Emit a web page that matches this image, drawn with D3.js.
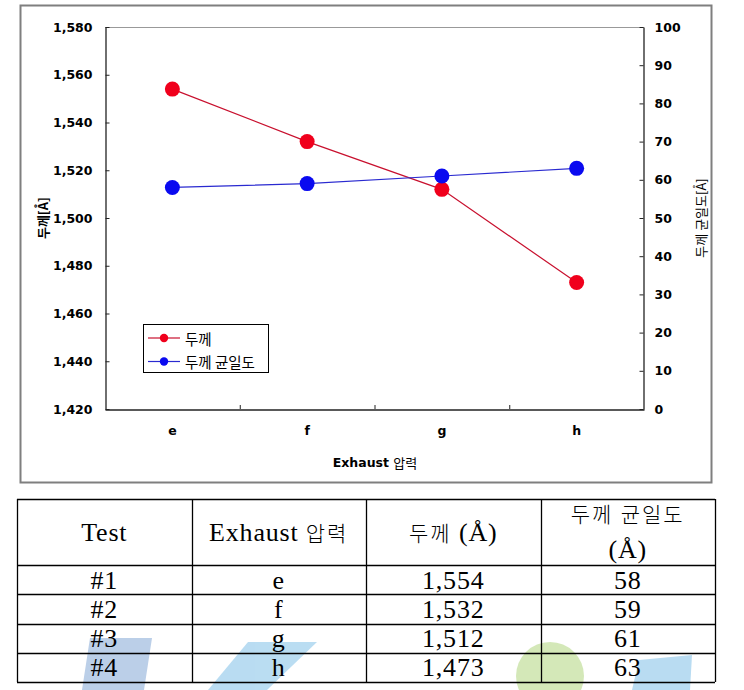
<!DOCTYPE html>
<html>
<head>
<meta charset="utf-8">
<script src="https://cdn.jsdelivr.net/npm/d3@7"></script>
<style>
  body { margin: 0; background: #fff; }
  svg text { fill: #000; }
</style>
</head>
<body>
<div id="main"></div>
<script>
var width = 744;
var height = 690;

var cats = ["e", "f", "g", "h"];
var tests = ["#1", "#2", "#3", "#4"];
var thickness = [1554, 1532, 1512, 1473];   // 두께
var uniformity = [58, 59, 61, 63];          // 두께 균일도
var leftTicks = [1420, 1440, 1460, 1480, 1500, 1520, 1540, 1560, 1580];
var rightTicks = [0, 10, 20, 30, 40, 50, 60, 70, 80, 90, 100];
var headers = ["Test", "Exhaust 압력", "두께 (Å)", "두께 균일도|(Å)"];

var RED = "#f0001c", RED_LINE = "#c8102e";
var BLUE = "#0a0af0", BLUE_LINE = "#2a2ad0";
var TICKFONT = "'DejaVu Sans', Verdana, sans-serif";
var KR = "'Noto Sans CJK KR', 'Noto Sans', sans-serif";

var svg = d3.select("#main").append("svg")
  .attr("width", width)
  .attr("height", height);

// outer chart frame
svg.append("rect")
  .attr("x", 20.5).attr("y", 5.5)
  .attr("width", 691).attr("height", 477)
  .attr("fill", "none").attr("stroke", "#7f7f7f").attr("stroke-width", 2);

var x = d3.scaleBand().domain(cats).range([105, 644]);
var yL = d3.scaleLinear().domain([1420, 1580]).range([409, 27]);
var yR = d3.scaleLinear().domain([0, 100]).range([409, 27]);
function cx(c) { return x(c) + x.bandwidth() / 2; }

// plot frame top line
svg.append("line")
  .attr("x1", 105).attr("x2", 644).attr("y1", 27.5).attr("y2", 27.5)
  .attr("stroke", "#999").attr("stroke-width", 1);

// left axis
var gl = svg.append("g").attr("transform", "translate(105.5,0)")
  .call(d3.axisLeft(yL).tickValues(leftTicks).tickFormat(d3.format(","))
    .tickSizeInner(-4).tickSizeOuter(0).tickPadding(13));
// right axis
var gr = svg.append("g").attr("transform", "translate(643.5,0)")
  .call(d3.axisRight(yR).tickValues(rightTicks)
    .tickSizeInner(-4).tickSizeOuter(0).tickPadding(11));
// bottom axis (labels at category centres)
var gb = svg.append("g").attr("transform", "translate(0,409.5)")
  .call(d3.axisBottom(x).tickSize(0).tickPadding(17));

[gl, gr, gb].forEach(function(g){
  g.select(".domain").attr("stroke", "#222").attr("stroke-width", 1.3);
  g.selectAll(".tick line").attr("stroke", "#222");
  g.selectAll(".tick text")
    .attr("font-family", TICKFONT).attr("font-size", 12.5)
    .attr("font-weight", "bold").attr("fill", "#000");
});

// category boundary ticks pointing up
svg.append("g").selectAll("line")
  .data(cats.slice(1))
  .enter().append("line")
  .attr("x1", function(d){ return x(d) + 0.5; })
  .attr("x2", function(d){ return x(d) + 0.5; })
  .attr("y1", 409).attr("y2", 405)
  .attr("stroke", "#222");

// axis titles
svg.append("text")
  .attr("transform", "translate(42,218) rotate(-90)")
  .attr("text-anchor", "middle").attr("dominant-baseline", "central")
  .attr("font-family", KR).attr("font-size", 13).attr("font-weight", "bold")
  .text("두께[Å]");
svg.append("text")
  .attr("transform", "translate(700,218) rotate(-90)")
  .attr("text-anchor", "middle").attr("dominant-baseline", "central")
  .attr("font-family", KR).attr("font-size", 13)
  .text("두께 균일도[Å]");
var xt = svg.append("text")
  .attr("x", 375).attr("y", 462)
  .attr("text-anchor", "middle").attr("dominant-baseline", "central")
  .attr("font-size", 12.5);
xt.append("tspan").attr("font-family", TICKFONT).attr("font-weight", "bold").text("Exhaust ");
xt.append("tspan").attr("font-family", KR).attr("font-size", 13).text("압력");

// series
var series = [
  { vals: thickness, y: yL, fill: RED, line: RED_LINE },
  { vals: uniformity, y: yR, fill: BLUE, line: BLUE_LINE }
];
series.forEach(function(s){
  var pts = cats.map(function(c, i){ return [cx(c), s.y(s.vals[i])]; });
  svg.append("path")
    .attr("d", d3.line()(pts))
    .attr("fill", "none").attr("stroke", s.line).attr("stroke-width", 1.2);
  svg.append("g").selectAll("circle")
    .data(pts)
    .enter().append("circle")
    .attr("cx", function(d){ return d[0]; })
    .attr("cy", function(d){ return d[1]; })
    .attr("r", 7.5)
    .attr("fill", s.fill);
});

// legend
var legend = svg.append("g").attr("transform", "translate(143,324)");
legend.append("rect")
  .attr("x", 0.5).attr("y", 0.5).attr("width", 125).attr("height", 48)
  .attr("fill", "#fff").attr("stroke", "#000").attr("stroke-width", 1);
var legItems = legend.selectAll(".item")
  .data([{ name: "두께", s: series[0] }, { name: "두께 균일도", s: series[1] }])
  .enter().append("g")
  .attr("class", "item")
  .attr("transform", function(d, i){ return "translate(0," + (14 + i * 23.5) + ")"; });
legItems.append("line")
  .attr("x1", 5).attr("x2", 37)
  .attr("stroke", function(d){ return d.s.line; }).attr("stroke-width", 1.2);
legItems.append("circle")
  .attr("cx", 21).attr("r", 4.2)
  .attr("fill", function(d){ return d.s.fill; });
legItems.append("text")
  .attr("x", 42).attr("dominant-baseline", "central")
  .attr("font-family", KR).attr("font-size", 14.5)
  .text(function(d){ return d.name; });

// watermark shapes behind the table
var marks = svg.append("g").attr("opacity", 0.6);
marks.append("polygon").attr("points", "90,638 152,638 144,690 82,690").attr("fill", "#8fb0da");
marks.append("polygon").attr("points", "248,642 317,642 267,690 208,690").attr("fill", "#8cc6ea");
marks.append("circle").attr("cx", 550).attr("cy", 676).attr("r", 34).attr("fill", "#b8da8a");
marks.append("polygon").attr("points", "639,660 692,655 690,690 632,690").attr("fill", "#8cc6ea");

// table
var col = d3.scaleBand().domain(d3.range(4)).range([17, 715]);
var row = d3.scaleBand().domain(tests).range([565, 682]);
var fmt = d3.format(",");
var rowsData = tests.map(function(t, i){
  return [t, cats[i], fmt(thickness[i]), String(uniformity[i])];
});

var table = svg.append("g");
function addRuns(textSel, str){
  // split Hangul from other characters so each gets its own font
  var runs = str.match(/[\uAC00-\uD7A3]+|[^\uAC00-\uD7A3]+/g) || [];
  runs.forEach(function(r){
    var kr = /[\uAC00-\uD7A3]/.test(r);
    textSel.append("tspan")
      .attr("font-family", kr ? KR : "'Liberation Serif', 'DejaVu Serif', serif")
      .attr("font-size", kr ? 21 : 26)
      .attr("font-weight", kr ? 300 : "normal")
      .attr("letter-spacing", kr ? 2 : 0.8)
      .text(r);
  });
}

headers.forEach(function(h, j){
  var lines = h.split("|");
  lines.forEach(function(l, k){
    var yy = lines.length == 1 ? 532 : (k == 0 ? 513 : 549);
    var t = table.append("text")
      .attr("x", col(j) + col.bandwidth() / 2).attr("y", yy)
      .attr("text-anchor", "middle").attr("dominant-baseline", "central");
    addRuns(t, l);
  });
});
rowsData.forEach(function(r, i){
  r.forEach(function(v, j){
    var t = table.append("text")
      .attr("x", col(j) + col.bandwidth() / 2)
      .attr("y", row(tests[i]) + row.bandwidth() / 2)
      .attr("text-anchor", "middle").attr("dominant-baseline", "central");
    addRuns(t, v);
  });
});

// grid lines
var hy = [499, 565].concat(tests.map(function(t){ return row(t) + row.bandwidth(); }));
table.selectAll(".hl").data(hy).enter().append("line")
  .attr("x1", 17).attr("x2", 715)
  .attr("y1", function(d){ return Math.round(d) + 0.5; })
  .attr("y2", function(d){ return Math.round(d) + 0.5; })
  .attr("stroke", "#000").attr("stroke-width", 1.3);
var vx = d3.range(4).map(function(j){ return col(j); }).concat([715]);
table.selectAll(".vl").data(vx).enter().append("line")
  .attr("x1", function(d){ return Math.round(d) + 0.5; })
  .attr("x2", function(d){ return Math.round(d) + 0.5; })
  .attr("y1", 499).attr("y2", 682)
  .attr("stroke", "#000").attr("stroke-width", 1.3);
</script>
</body>
</html>
